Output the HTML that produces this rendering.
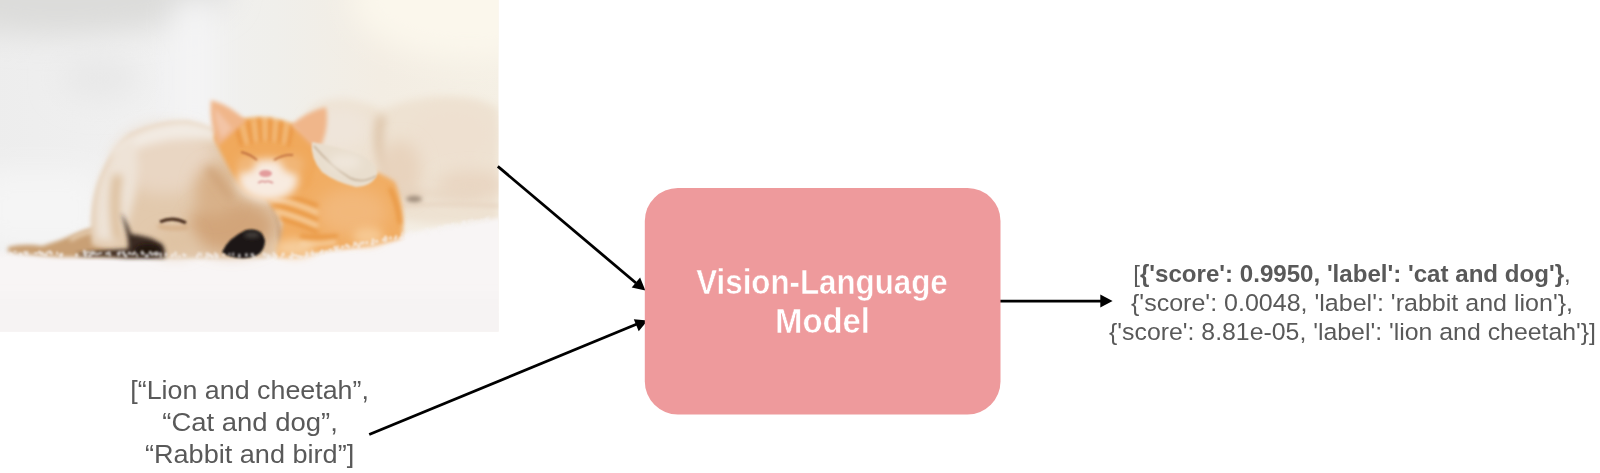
<!DOCTYPE html>
<html><head><meta charset="utf-8">
<style>
html,body{margin:0;padding:0;background:#fff;width:1600px;height:473px;overflow:hidden;}
svg{display:block;position:absolute;left:0;top:0;}
text{font-family:"Liberation Sans",sans-serif;}
</style></head><body>
<svg width="1600" height="473" viewBox="0 0 1600 473">
<defs>
  <clipPath id="pc"><rect x="0" y="0" width="498.5" height="331.5"/></clipPath>
  <filter id="b1" filterUnits="userSpaceOnUse" x="-100" y="-100" width="720" height="560"><feGaussianBlur stdDeviation="0.8"/></filter>
  <filter id="b2" filterUnits="userSpaceOnUse" x="-100" y="-100" width="720" height="560"><feGaussianBlur stdDeviation="2"/></filter>
  <filter id="b4" filterUnits="userSpaceOnUse" x="-100" y="-100" width="720" height="560"><feGaussianBlur stdDeviation="4"/></filter>
  <filter id="b8" filterUnits="userSpaceOnUse" x="-100" y="-100" width="720" height="560"><feGaussianBlur stdDeviation="8"/></filter>
  <filter id="b15" filterUnits="userSpaceOnUse" x="-100" y="-100" width="720" height="560"><feGaussianBlur stdDeviation="15"/></filter>
  <linearGradient id="bg" x1="0" y1="0" x2="1" y2="0">
    <stop offset="0" stop-color="#ededed"/>
    <stop offset="0.35" stop-color="#f1f1f1"/>
    <stop offset="0.55" stop-color="#f0efeb"/>
    <stop offset="0.75" stop-color="#f3ede3"/>
    <stop offset="1" stop-color="#f5f0e5"/>
  </linearGradient>
</defs>

<!-- PHOTO -->
<g clip-path="url(#pc)" id="photo">
  <rect x="-10" y="-10" width="520" height="350" fill="url(#bg)"/>
  <ellipse cx="60" cy="-10" rx="170" ry="45" fill="#dcdcda" filter="url(#b15)"/>
  <rect x="175" y="0" width="40" height="140" fill="#f4f4f5" filter="url(#b15)"/>
  <ellipse cx="470" cy="0" rx="120" ry="60" fill="#fbf7ec" filter="url(#b15)"/>
  <ellipse cx="100" cy="78" rx="40" ry="22" fill="#e8e8e8" filter="url(#b15)"/>
  <rect x="-20" y="170" width="120" height="80" fill="#f5f5f5" filter="url(#b15)"/>
  <!-- dog body behind -->
  <path d="M304,118 Q315,98 350,100 Q372,104 382,110 Q420,92 470,98 Q492,102 499,110 L499,226 Q470,224 430,224 Q400,222 380,210 Q340,196 320,180 Q298,150 304,118 Z" fill="#eee2d2" filter="url(#b4)"/>
  <ellipse cx="340" cy="128" rx="30" ry="22" fill="#efe5da" filter="url(#b8)"/>
  <ellipse cx="452" cy="135" rx="42" ry="28" fill="#eee0d0" filter="url(#b8)"/>
  <path d="M382,116 Q374,142 386,166 Q398,188 420,200" stroke="#dfc7ad" stroke-width="10" fill="none" filter="url(#b4)"/>
  <ellipse cx="400" cy="170" rx="22" ry="30" fill="#e8d3bd" filter="url(#b8)"/>
  <ellipse cx="470" cy="185" rx="35" ry="15" fill="#e9d6c2" filter="url(#b8)"/>
  <path d="M400,188 Q430,198 480,192" stroke="#e8d6c2" stroke-width="6" fill="none" filter="url(#b4)"/>
  <path d="M402,206 Q450,202 499,206" stroke="#e6d3c0" stroke-width="3" fill="none" filter="url(#b2)"/>
  <ellipse cx="414" cy="199" rx="8" ry="3" fill="#9e8c7c" filter="url(#b2)"/>
  <!-- carpet -->
  <path d="M-30,253 L0,253 Q150,255 300,257 Q400,232 499,218 L530,214 L530,360 L-30,360 Z" fill="#f8f5f5" filter="url(#b2)"/>
  <rect x="-30" y="295" width="560" height="60" fill="#f6f3f3" filter="url(#b8)"/>
  <!-- ear -->
  <path d="M8,247 Q25,243 42,246 Q62,240 80,232 Q98,224 112,230 Q130,240 140,257 L60,257 Q30,255 8,252 Z" fill="#c9a074" filter="url(#b2)"/>
  <path d="M70,240 Q90,228 108,232" stroke="#e6cdb0" stroke-width="4" fill="none" filter="url(#b2)"/>
  <!-- dog head -->
  <path d="M92,245 Q89,210 97,185 Q108,152 130,134 Q158,120 188,121 Q214,126 232,140 Q250,170 268,200 Q283,225 283,245 Q279,257 262,258 L165,258 Q120,256 92,245 Z" fill="#e2c9ad" filter="url(#b2)"/>
  <ellipse cx="165" cy="160" rx="50" ry="34" fill="#e9d6c3" filter="url(#b8)"/>
  <path d="M112,150 Q140,124 185,121 Q215,124 232,142 Q200,138 170,140 Q135,146 112,160 Z" fill="#f2ebe3" filter="url(#b4)"/>
  <path d="M96,240 Q92,205 100,180 Q110,152 132,136 Q142,160 135,195 Q128,225 118,242 Z" fill="#eee3d7" filter="url(#b4)"/>
  <ellipse cx="232" cy="226" rx="44" ry="27" fill="#d2a57a" filter="url(#b8)"/>
  <ellipse cx="215" cy="190" rx="20" ry="26" fill="#d8b088" filter="url(#b8)"/>
  <ellipse cx="175" cy="242" rx="22" ry="12" fill="#dfc2a2" filter="url(#b8)"/>
  <path d="M118,175 Q112,200 118,240" stroke="#dbbc98" stroke-width="9" fill="none" filter="url(#b4)"/>
  <path d="M268,198 Q282,222 280,250" stroke="#c8a07a" stroke-width="3" fill="none" filter="url(#b2)"/>
  <path d="M208,168 Q222,185 232,200" stroke="#c99a6e" stroke-width="4" fill="none" filter="url(#b4)"/>
  <!-- dark shadow under head -->
  <path d="M121,213 Q127,222 131,234 Q150,236 162,244 Q166,250 165,258 L128,258 Q110,256 98,256 Q80,256 76,254 Q100,250 128,249 Q130,240 121,213 Z" fill="#3a2a20" filter="url(#b2)"/>
  <ellipse cx="148" cy="250" rx="13" ry="6" fill="#22180f" filter="url(#b2)"/>
  <!-- eye -->
  <path d="M160,222 Q173,216 186,223" stroke="#4e3322" stroke-width="3.2" fill="none" filter="url(#b1)"/>
  <path d="M158,226 Q172,230 188,227" stroke="#d2a77c" stroke-width="3" fill="none" filter="url(#b2)"/>
  <!-- shadow between muzzle and kitten -->
  <ellipse cx="291" cy="234" rx="9" ry="12" fill="#b88c66" filter="url(#b4)"/>
  <!-- kitten body -->
  <path d="M240,160 Q270,150 320,155 Q370,165 395,182 Q406,210 402,238 Q380,246 330,250 Q300,258 276,257 Q283,235 282,220 Q262,195 240,160 Z" fill="#f1ad64" filter="url(#b2)"/>
  <ellipse cx="352" cy="212" rx="36" ry="24" fill="#f2b87a" filter="url(#b8)"/>
  <ellipse cx="295" cy="248" rx="20" ry="9" fill="#f6cc9a" filter="url(#b4)"/>
  <ellipse cx="368" cy="236" rx="15" ry="9" fill="#f6c892" filter="url(#b4)"/>
  <path d="M270,192 Q292,196 318,206 M272,204 Q296,210 318,220 M280,218 Q300,224 318,232 M300,236 Q318,238 338,236 M390,188 Q398,205 400,224" stroke="#e8953f" stroke-width="3.5" fill="none" filter="url(#b2)"/>
  <path d="M272,198 Q296,203 318,213 M276,211 Q298,217 318,226 M300,244 Q318,245 336,242" stroke="#f8d6ab" stroke-width="3" fill="none" filter="url(#b2)"/>
  <!-- kitten head -->
  <path d="M214,138 Q220,122 242,119 Q266,114 293,124 Q312,135 318,150 Q318,170 310,186 Q292,200 266,199 Q246,196 240,186 Q226,166 214,138 Z" fill="#f0a95c" filter="url(#b2)"/>
  <path d="M236,126 L242,146 M248,121 L252,144 M259,118 L261,142 M270,118 L270,142 M281,121 L279,143 M292,126 L288,146" stroke="#e8923c" stroke-width="3" fill="none" filter="url(#b2)"/>
  <path d="M242,124 L247,144 M254,120 L256,142 M265,118 L265,141 M276,120 L274,142 M287,123 L284,144" stroke="#f6cc98" stroke-width="2" fill="none" filter="url(#b2)"/>
  <!-- ears -->
  <path d="M211,100 Q232,106 246,121 L218,146 Q209,122 211,100 Z" fill="#f0b68a" filter="url(#b2)"/>
  <path d="M326,107 Q306,112 291,125 L318,152 Q330,130 326,107 Z" fill="#f0b68a" filter="url(#b2)"/>
  <path d="M215,108 Q225,120 232,128 L222,138 Q214,122 215,108 Z" fill="#f3c4a6" filter="url(#b2)"/>
  <!-- face -->
  <ellipse cx="268" cy="180" rx="30" ry="21" fill="#f8ebe0" filter="url(#b4)"/>
  <ellipse cx="246" cy="164" rx="9" ry="8" fill="#f1b677" filter="url(#b4)"/>
  <ellipse cx="293" cy="164" rx="11" ry="9" fill="#f1b677" filter="url(#b4)"/>
  <ellipse cx="265.5" cy="173.5" rx="6.5" ry="3.5" fill="#e39c9c" filter="url(#b1)"/>
  <path d="M258,183 Q262,180 265,182 Q268,180 273,183" stroke="#d88c8c" stroke-width="1.5" fill="none" filter="url(#b1)"/>
  <path d="M241,152 Q250,154 257,160 M274,160 Q284,154 293,155" stroke="#c07040" stroke-width="1.8" fill="none" filter="url(#b1)"/>
  <!-- dog paw over kitten -->
  <path d="M312,142 Q335,146 356,153 Q374,160 378,172 Q374,186 356,187 Q335,182 322,172 Q310,158 312,142 Z" fill="#e9dece" filter="url(#b1)"/>
  <path d="M314,146 Q330,165 350,178 Q362,184 376,176" stroke="#cdbba5" stroke-width="2" fill="none" filter="url(#b1)"/>
  <ellipse cx="345" cy="162" rx="16" ry="8" fill="#efe6da" filter="url(#b4)"/>
  <!-- nose -->
  <path d="M222,252 Q228,238 246,230 Q262,227 265,240 Q265,256 247,258 Q230,259 222,252 Z" fill="#1c1816" filter="url(#b1)"/>
  <ellipse cx="252" cy="235" rx="8" ry="3" fill="#45403c" filter="url(#b2)"/>
  <g fill="#f6f3f2" opacity="0.7" filter="url(#b1)"><ellipse cx="118.7" cy="254.6" rx="1.2" ry="2.0"/><ellipse cx="312.2" cy="251.9" rx="0.8" ry="2.3"/><ellipse cx="129.4" cy="253.3" rx="1.8" ry="1.8"/><ellipse cx="417.4" cy="233.1" rx="1.4" ry="1.4"/><ellipse cx="316.8" cy="254.6" rx="1.3" ry="2.2"/><ellipse cx="335.0" cy="247.4" rx="1.6" ry="2.0"/><ellipse cx="150.3" cy="252.6" rx="1.7" ry="1.8"/><ellipse cx="358.7" cy="246.5" rx="1.5" ry="2.4"/><ellipse cx="197.1" cy="256.6" rx="1.2" ry="2.4"/><ellipse cx="438.6" cy="227.3" rx="0.9" ry="1.5"/><ellipse cx="481.8" cy="220.3" rx="1.4" ry="1.6"/><ellipse cx="253.1" cy="255.3" rx="1.2" ry="2.0"/><ellipse cx="291.5" cy="258.0" rx="1.5" ry="2.4"/><ellipse cx="427.3" cy="233.5" rx="1.5" ry="1.4"/><ellipse cx="429.5" cy="233.0" rx="1.7" ry="1.9"/><ellipse cx="356.2" cy="243.9" rx="1.6" ry="1.9"/><ellipse cx="142.2" cy="252.7" rx="1.7" ry="2.5"/><ellipse cx="44.2" cy="255.0" rx="1.2" ry="1.4"/><ellipse cx="146.7" cy="255.9" rx="1.7" ry="1.3"/><ellipse cx="306.7" cy="252.9" rx="1.5" ry="1.6"/><ellipse cx="439.6" cy="231.1" rx="1.3" ry="2.5"/><ellipse cx="154.5" cy="252.9" rx="1.4" ry="1.2"/><ellipse cx="98.5" cy="253.8" rx="1.4" ry="1.4"/><ellipse cx="21.2" cy="255.1" rx="1.1" ry="2.4"/><ellipse cx="447.4" cy="226.8" rx="1.3" ry="1.9"/><ellipse cx="321.3" cy="252.5" rx="1.4" ry="2.0"/><ellipse cx="469.4" cy="223.1" rx="1.2" ry="2.1"/><ellipse cx="118.6" cy="253.5" rx="1.8" ry="1.9"/><ellipse cx="273.7" cy="253.8" rx="1.2" ry="2.0"/><ellipse cx="10.0" cy="253.9" rx="1.4" ry="1.3"/><ellipse cx="313.0" cy="253.5" rx="1.5" ry="1.7"/><ellipse cx="352.8" cy="247.0" rx="0.8" ry="1.3"/><ellipse cx="337.3" cy="251.0" rx="1.1" ry="1.8"/><ellipse cx="295.7" cy="255.4" rx="1.2" ry="1.6"/><ellipse cx="184.2" cy="255.5" rx="1.1" ry="1.7"/><ellipse cx="385.4" cy="237.4" rx="1.4" ry="2.2"/><ellipse cx="154.7" cy="253.5" rx="1.6" ry="1.5"/><ellipse cx="93.5" cy="253.9" rx="1.5" ry="1.3"/><ellipse cx="160.7" cy="254.1" rx="1.6" ry="1.8"/><ellipse cx="426.9" cy="229.9" rx="1.1" ry="2.0"/><ellipse cx="441.6" cy="228.3" rx="1.0" ry="1.4"/><ellipse cx="264.3" cy="254.5" rx="1.6" ry="2.3"/><ellipse cx="91.6" cy="253.2" rx="1.6" ry="2.0"/><ellipse cx="402.3" cy="235.5" rx="0.9" ry="1.6"/><ellipse cx="396.1" cy="236.4" rx="1.1" ry="1.7"/><ellipse cx="209.5" cy="254.9" rx="1.7" ry="1.4"/><ellipse cx="2.3" cy="255.3" rx="1.7" ry="2.5"/><ellipse cx="216.7" cy="257.4" rx="1.7" ry="1.5"/><ellipse cx="372.0" cy="243.7" rx="1.5" ry="1.9"/><ellipse cx="144.2" cy="254.0" rx="1.0" ry="1.3"/><ellipse cx="293.8" cy="255.2" rx="1.6" ry="1.3"/><ellipse cx="450.9" cy="227.5" rx="1.7" ry="2.4"/><ellipse cx="448.9" cy="227.4" rx="0.8" ry="2.2"/><ellipse cx="85.7" cy="253.2" rx="1.5" ry="1.9"/><ellipse cx="206.5" cy="257.3" rx="1.4" ry="1.6"/><ellipse cx="126.0" cy="256.1" rx="1.3" ry="2.2"/><ellipse cx="175.6" cy="253.6" rx="1.3" ry="2.3"/><ellipse cx="85.5" cy="255.4" rx="1.7" ry="2.2"/><ellipse cx="410.9" cy="232.3" rx="1.4" ry="2.3"/><ellipse cx="24.9" cy="252.5" rx="1.1" ry="1.9"/><ellipse cx="211.1" cy="255.2" rx="1.6" ry="1.2"/><ellipse cx="27.4" cy="251.8" rx="0.9" ry="1.3"/><ellipse cx="486.4" cy="221.3" rx="0.9" ry="1.9"/><ellipse cx="157.6" cy="254.0" rx="1.2" ry="2.0"/><ellipse cx="292.7" cy="255.6" rx="1.0" ry="1.6"/><ellipse cx="61.8" cy="254.1" rx="1.5" ry="1.7"/><ellipse cx="39.9" cy="252.2" rx="1.2" ry="2.0"/><ellipse cx="390.5" cy="238.0" rx="1.6" ry="2.0"/><ellipse cx="215.4" cy="254.8" rx="1.3" ry="2.1"/><ellipse cx="209.8" cy="256.2" rx="1.3" ry="1.5"/><ellipse cx="267.4" cy="256.8" rx="0.9" ry="1.8"/><ellipse cx="212.5" cy="257.1" rx="1.7" ry="1.7"/><ellipse cx="448.0" cy="228.5" rx="1.1" ry="1.8"/><ellipse cx="61.4" cy="255.3" rx="1.5" ry="2.4"/><ellipse cx="395.4" cy="238.3" rx="1.5" ry="1.9"/><ellipse cx="51.5" cy="254.2" rx="0.8" ry="1.4"/><ellipse cx="386.4" cy="237.3" rx="0.9" ry="1.3"/><ellipse cx="439.4" cy="227.5" rx="0.8" ry="2.3"/><ellipse cx="60.5" cy="255.4" rx="1.5" ry="2.3"/><ellipse cx="475.3" cy="222.3" rx="1.6" ry="1.2"/><ellipse cx="382.9" cy="240.0" rx="1.5" ry="1.3"/><ellipse cx="373.7" cy="243.8" rx="0.9" ry="1.6"/><ellipse cx="281.4" cy="257.5" rx="1.0" ry="1.4"/><ellipse cx="124.7" cy="255.0" rx="1.6" ry="1.7"/><ellipse cx="183.4" cy="254.6" rx="1.2" ry="1.7"/><ellipse cx="41.5" cy="253.7" rx="1.8" ry="1.7"/><ellipse cx="373.0" cy="240.4" rx="1.5" ry="2.2"/><ellipse cx="336.3" cy="249.2" rx="1.3" ry="2.0"/><ellipse cx="447.8" cy="225.7" rx="0.9" ry="2.2"/><ellipse cx="457.4" cy="225.5" rx="1.2" ry="2.1"/><ellipse cx="92.9" cy="253.1" rx="1.0" ry="2.0"/><ellipse cx="157.1" cy="253.6" rx="1.5" ry="2.4"/><ellipse cx="147.6" cy="255.7" rx="1.2" ry="2.3"/><ellipse cx="291.7" cy="255.1" rx="1.0" ry="1.2"/><ellipse cx="239.3" cy="255.1" rx="1.0" ry="1.7"/><ellipse cx="160.7" cy="256.1" rx="0.9" ry="2.5"/><ellipse cx="239.3" cy="256.1" rx="1.3" ry="2.3"/><ellipse cx="410.0" cy="235.0" rx="1.3" ry="2.1"/><ellipse cx="427.5" cy="230.8" rx="1.5" ry="2.4"/><ellipse cx="233.2" cy="254.4" rx="1.0" ry="2.1"/><ellipse cx="337.0" cy="251.1" rx="1.7" ry="1.5"/><ellipse cx="94.6" cy="253.1" rx="1.0" ry="2.1"/><ellipse cx="428.4" cy="232.9" rx="1.1" ry="2.3"/><ellipse cx="156.4" cy="254.5" rx="1.5" ry="1.3"/><ellipse cx="46.2" cy="255.2" rx="1.1" ry="1.7"/><ellipse cx="289.6" cy="256.9" rx="0.8" ry="1.6"/><ellipse cx="217.7" cy="255.4" rx="1.0" ry="2.0"/><ellipse cx="476.7" cy="221.1" rx="1.3" ry="1.4"/><ellipse cx="137.1" cy="255.4" rx="0.9" ry="2.4"/><ellipse cx="453.5" cy="224.4" rx="1.7" ry="1.7"/><ellipse cx="385.4" cy="240.7" rx="1.1" ry="2.1"/><ellipse cx="326.4" cy="252.5" rx="1.1" ry="2.2"/><ellipse cx="479.7" cy="221.8" rx="1.3" ry="1.3"/><ellipse cx="246.4" cy="255.0" rx="1.5" ry="2.1"/><ellipse cx="282.6" cy="254.6" rx="1.4" ry="2.0"/><ellipse cx="89.4" cy="255.9" rx="1.5" ry="1.4"/><ellipse cx="465.0" cy="222.3" rx="1.1" ry="2.1"/><ellipse cx="298.1" cy="256.5" rx="1.4" ry="1.8"/><ellipse cx="155.9" cy="253.4" rx="0.9" ry="2.1"/><ellipse cx="376.5" cy="241.5" rx="1.5" ry="1.7"/><ellipse cx="132.7" cy="254.1" rx="1.7" ry="1.3"/><ellipse cx="251.9" cy="254.6" rx="1.6" ry="1.7"/><ellipse cx="166.1" cy="254.5" rx="1.3" ry="2.2"/><ellipse cx="176.1" cy="256.6" rx="0.9" ry="1.6"/><ellipse cx="49.7" cy="252.0" rx="1.6" ry="2.1"/><ellipse cx="92.2" cy="252.8" rx="1.2" ry="2.2"/><ellipse cx="407.1" cy="236.4" rx="1.4" ry="1.4"/><ellipse cx="198.8" cy="253.9" rx="1.3" ry="1.9"/><ellipse cx="100.8" cy="253.1" rx="1.6" ry="1.2"/><ellipse cx="400.8" cy="238.3" rx="1.7" ry="1.7"/><ellipse cx="275.8" cy="256.4" rx="1.4" ry="2.5"/><ellipse cx="342.6" cy="247.0" rx="1.7" ry="1.8"/><ellipse cx="300.1" cy="257.3" rx="0.8" ry="2.2"/><ellipse cx="330.3" cy="250.3" rx="1.3" ry="1.8"/><ellipse cx="96.5" cy="254.3" rx="0.8" ry="1.9"/><ellipse cx="322.3" cy="251.6" rx="1.4" ry="2.4"/><ellipse cx="445.1" cy="226.2" rx="1.6" ry="2.0"/><ellipse cx="25.3" cy="252.9" rx="1.0" ry="1.3"/><ellipse cx="268.9" cy="257.9" rx="1.1" ry="2.3"/><ellipse cx="346.6" cy="245.5" rx="1.7" ry="2.0"/><ellipse cx="462.6" cy="225.4" rx="1.5" ry="1.6"/><ellipse cx="402.5" cy="238.1" rx="1.7" ry="1.8"/><ellipse cx="377.7" cy="241.0" rx="0.9" ry="1.3"/><ellipse cx="38.9" cy="252.3" rx="1.0" ry="1.8"/><ellipse cx="348.9" cy="246.8" rx="1.2" ry="2.0"/><ellipse cx="152.0" cy="254.6" rx="1.6" ry="1.7"/><ellipse cx="90.1" cy="255.9" rx="1.5" ry="1.7"/><ellipse cx="185.1" cy="255.2" rx="1.4" ry="1.5"/><ellipse cx="1.3" cy="252.0" rx="1.6" ry="1.4"/><ellipse cx="229.5" cy="254.2" rx="1.0" ry="1.4"/><ellipse cx="201.5" cy="253.8" rx="0.8" ry="1.3"/><ellipse cx="83.9" cy="254.0" rx="0.9" ry="1.2"/><ellipse cx="223.6" cy="255.1" rx="1.5" ry="1.3"/><ellipse cx="201.2" cy="254.8" rx="0.8" ry="2.5"/><ellipse cx="109.2" cy="252.5" rx="1.3" ry="1.4"/><ellipse cx="310.6" cy="253.5" rx="0.9" ry="1.3"/><ellipse cx="363.1" cy="242.9" rx="1.6" ry="1.8"/><ellipse cx="465.5" cy="222.9" rx="1.0" ry="1.5"/><ellipse cx="406.5" cy="236.0" rx="1.1" ry="1.3"/><ellipse cx="340.5" cy="250.4" rx="1.4" ry="1.2"/><ellipse cx="15.1" cy="251.6" rx="1.0" ry="1.2"/><ellipse cx="26.9" cy="254.2" rx="1.7" ry="1.5"/><ellipse cx="485.9" cy="219.7" rx="1.6" ry="2.4"/><ellipse cx="469.1" cy="221.0" rx="1.1" ry="2.0"/><ellipse cx="472.3" cy="220.6" rx="1.1" ry="2.3"/><ellipse cx="57.2" cy="253.3" rx="1.1" ry="2.1"/><ellipse cx="463.3" cy="222.8" rx="1.5" ry="2.2"/><ellipse cx="417.0" cy="233.6" rx="1.7" ry="1.7"/><ellipse cx="206.9" cy="254.1" rx="1.6" ry="1.8"/><ellipse cx="134.5" cy="253.1" rx="1.5" ry="2.0"/><ellipse cx="354.6" cy="245.0" rx="1.3" ry="1.4"/><ellipse cx="354.6" cy="243.4" rx="1.3" ry="2.2"/><ellipse cx="338.0" cy="247.0" rx="1.0" ry="2.3"/><ellipse cx="320.5" cy="253.9" rx="1.7" ry="1.8"/><ellipse cx="447.6" cy="228.4" rx="1.1" ry="1.7"/><ellipse cx="36.0" cy="253.2" rx="1.8" ry="1.3"/><ellipse cx="283.9" cy="254.3" rx="0.9" ry="2.0"/><ellipse cx="120.1" cy="252.4" rx="1.0" ry="2.0"/><ellipse cx="292.2" cy="254.0" rx="1.0" ry="2.5"/><ellipse cx="109.8" cy="254.6" rx="1.2" ry="2.2"/><ellipse cx="301.6" cy="257.2" rx="1.3" ry="1.4"/><ellipse cx="88.6" cy="252.2" rx="1.6" ry="1.3"/><ellipse cx="12.0" cy="255.5" rx="1.0" ry="2.4"/><ellipse cx="42.8" cy="253.5" rx="1.0" ry="2.3"/><ellipse cx="307.1" cy="255.5" rx="1.6" ry="2.3"/><ellipse cx="172.7" cy="255.4" rx="1.2" ry="1.3"/><ellipse cx="416.9" cy="233.8" rx="1.6" ry="1.5"/><ellipse cx="269.1" cy="255.8" rx="1.5" ry="1.3"/><ellipse cx="172.7" cy="254.9" rx="0.9" ry="1.9"/><ellipse cx="366.9" cy="242.8" rx="1.4" ry="2.0"/><ellipse cx="106.9" cy="253.6" rx="1.8" ry="1.6"/><ellipse cx="215.0" cy="253.5" rx="1.0" ry="1.4"/><ellipse cx="464.5" cy="225.0" rx="1.7" ry="2.5"/><ellipse cx="305.5" cy="257.1" rx="1.3" ry="1.7"/><ellipse cx="473.1" cy="224.1" rx="1.7" ry="1.8"/><ellipse cx="386.0" cy="239.0" rx="1.8" ry="2.4"/><ellipse cx="145.7" cy="256.7" rx="1.0" ry="1.3"/><ellipse cx="360.5" cy="243.5" rx="1.3" ry="2.0"/><ellipse cx="20.2" cy="254.6" rx="1.1" ry="1.8"/><ellipse cx="172.0" cy="256.1" rx="1.5" ry="1.6"/><ellipse cx="51.6" cy="252.9" rx="1.2" ry="1.3"/><ellipse cx="76.5" cy="255.2" rx="1.5" ry="2.5"/><ellipse cx="488.8" cy="220.9" rx="1.2" ry="1.4"/><ellipse cx="155.7" cy="254.6" rx="1.3" ry="1.9"/><ellipse cx="179.5" cy="256.6" rx="1.1" ry="1.8"/><ellipse cx="442.5" cy="229.7" rx="1.1" ry="1.5"/><ellipse cx="402.5" cy="234.0" rx="0.9" ry="1.9"/><ellipse cx="267.4" cy="254.4" rx="0.9" ry="1.5"/><ellipse cx="384.2" cy="239.6" rx="1.8" ry="2.2"/><ellipse cx="488.6" cy="217.2" rx="1.0" ry="1.2"/><ellipse cx="215.7" cy="254.7" rx="0.9" ry="1.9"/><ellipse cx="46.8" cy="252.9" rx="1.0" ry="2.2"/><ellipse cx="208.7" cy="254.3" rx="0.8" ry="1.8"/><ellipse cx="313.1" cy="254.5" rx="1.7" ry="2.3"/><ellipse cx="123.4" cy="252.8" rx="1.6" ry="2.2"/><ellipse cx="253.9" cy="257.3" rx="1.4" ry="1.6"/><ellipse cx="84.2" cy="251.9" rx="1.4" ry="2.4"/><ellipse cx="452.2" cy="226.3" rx="1.5" ry="2.4"/><ellipse cx="406.2" cy="235.9" rx="1.2" ry="1.9"/><ellipse cx="85.2" cy="252.7" rx="1.5" ry="2.5"/></g>
</g>

<!-- ARROWS -->
<g stroke="#000" stroke-width="2.8" fill="none">
  <line x1="497.8" y1="166.4" x2="636" y2="283"/>
  <line x1="369.2" y1="434.5" x2="637" y2="324"/>
  <line x1="998.8" y1="301.1" x2="1102" y2="301.1"/>
</g>
<g fill="#000">
  <polygon points="1112.6,301.1 1100.3,294.6 1100.3,307.6"/>
  <polygon points="645.4,290.5 631.7,287.5 640.1,277.5"/>
  <polygon points="647.6,320.6 633.8,319.3 638.7,331.3"/>
</g>

<!-- BOX -->
<rect x="644.8" y="188" width="355.7" height="226.4" rx="33" ry="33" fill="#ee9a9c"/>
<g style="opacity:0.999" fill="#fff" stroke="#ee9a9c" stroke-width="0.5" font-weight="bold" font-size="34.5" text-anchor="middle">
  <text x="822" y="294.3" textLength="251.5" lengthAdjust="spacingAndGlyphs">Vision-Language</text>
  <text x="822.5" y="332.9" textLength="95" lengthAdjust="spacingAndGlyphs">Model</text>
</g>

<!-- OUTPUT TEXT -->
<g style="opacity:0.999" fill="#595959" font-size="24.5" text-anchor="middle">
  <text x="1352" y="281.6" textLength="437.5" lengthAdjust="spacingAndGlyphs">[<tspan font-weight="bold">{'score': 0.9950, 'label': 'cat and dog'}</tspan>,</text>
  <text x="1352" y="310.6" textLength="442" lengthAdjust="spacingAndGlyphs">{'score': 0.0048, 'label': 'rabbit and lion'},</text>
  <text x="1352.5" y="339.6" textLength="487" lengthAdjust="spacingAndGlyphs">{'score': 8.81e-05, 'label': 'lion and cheetah'}]</text>
</g>

<!-- INPUT TEXT -->
<g style="opacity:0.999" fill="#595959" font-size="26" text-anchor="middle">
  <text x="249.6" y="398.8" textLength="238.6" lengthAdjust="spacingAndGlyphs">[“Lion and cheetah”,</text>
  <text x="250.1" y="430.5" textLength="175.6" lengthAdjust="spacingAndGlyphs">“Cat and dog”,</text>
  <text x="249.6" y="462.7" textLength="209.3" lengthAdjust="spacingAndGlyphs">“Rabbit and bird”]</text>
</g>
</svg>
</body></html>
